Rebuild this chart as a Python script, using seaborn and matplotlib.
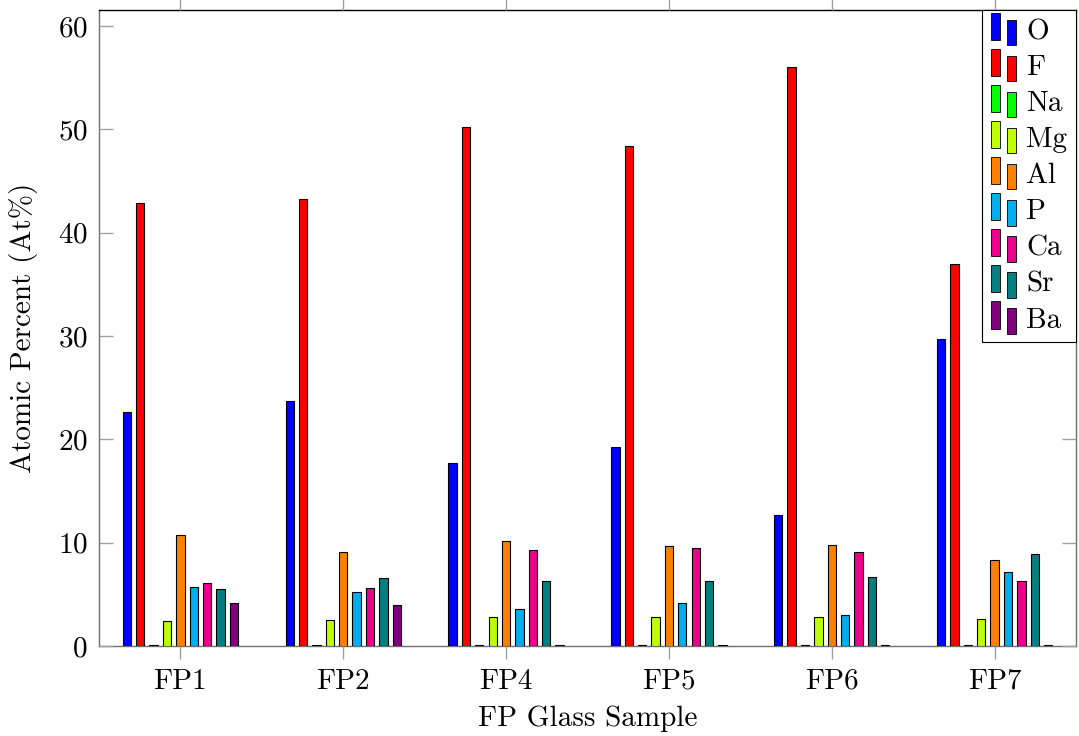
import matplotlib
matplotlib.use("Agg")
import matplotlib.pyplot as plt
from matplotlib.patches import Patch, Rectangle
from matplotlib.legend_handler import HandlerBase
import seaborn as sns
import pandas as pd

samples = ["FP1", "FP2", "FP4", "FP5", "FP6", "FP7"]
elements = ["O", "F", "Na", "Mg", "Al", "P", "Ca", "Sr", "Ba"]

O_vals = [22.6, 23.7, 17.7, 19.3, 12.65, 29.7]
F_vals = [42.9, 43.3, 50.2, 48.4, 56.0, 37.0]
Na_vals = [0.1, 0.1, 0.1, 0.1, 0.1, 0.1]
Mg_vals = [2.45, 2.5, 2.85, 2.8, 2.84, 2.65]
Al_vals = [10.7, 9.1, 10.2, 9.68, 9.75, 8.35]
P_vals = [5.68, 5.25, 3.6, 4.2, 3.03, 7.16]
Ca_vals = [6.1, 5.6, 9.26, 9.5, 9.13, 6.32]
Sr_vals = [5.5, 6.6, 6.3, 6.3, 6.7, 8.88]
Ba_vals = [4.2, 4.0, 0.1, 0.1, 0.1, 0.1]

colors = ["#0000FF", "#FF0000", "#00FF00", "#BFFF00", "#FF8000",
          "#00ADEF", "#EC008C", "#008080", "#800080"]

series = [O_vals, F_vals, Na_vals, Mg_vals, Al_vals, P_vals, Ca_vals, Sr_vals, Ba_vals]
rows = []
for el, vals in zip(elements, series):
    for s, v in zip(samples, vals):
        rows.append({"sample": s, "element": el, "value": v})
df = pd.DataFrame(rows)
palette = dict(zip(elements, colors))

sns.set_theme(style="white")
plt.rcParams["font.family"] = ["cmr10", "DejaVu Serif"]
plt.rcParams["mathtext.fontset"] = "cm"
plt.rcParams["axes.formatter.use_mathtext"] = True
plt.rcParams["text.color"] = "black"
plt.rcParams["axes.labelcolor"] = "black"
plt.rcParams["xtick.color"] = "black"
plt.rcParams["ytick.color"] = "black"

FS = 21

fig = plt.figure(figsize=(10.79, 7.36), dpi=100)
ax = fig.add_axes([99 / 1079, 1 - 646 / 736, (1076 - 99) / 1079, (646 - 10) / 736])

sns.barplot(data=df, x="sample", y="value", hue="element", order=samples,
            hue_order=elements, palette=palette, saturation=1, width=0.74,
            gap=0.38, edgecolor="black", linewidth=0.8, errorbar=None,
            legend=False, ax=ax)

ax.set_xlim(-0.5, 5.5)
ax.set_ylim(0, 61.55)
ax.set_yticks([0, 10, 20, 30, 40, 50, 60])
ax.set_xlabel("FP Glass Sample", fontsize=FS, labelpad=8)
ax.set_ylabel("Atomic Percent (At%)", fontsize=FS, labelpad=14)
for name, sp in ax.spines.items():
    sp.set_visible(True)
    sp.set_linewidth(1.0)
    sp.set_color("black" if name == "top" else "#6e6e6e")
    sp.set_zorder(0.5)

ax.tick_params(axis="x", direction="out", length=9, width=1, color="#a0a0a0",
               labelcolor="black", top=True, bottom=True, labelsize=FS, pad=7)
ax.tick_params(axis="y", direction="in", length=10, width=1, color="#a0a0a0",
               labelcolor="black", left=True, right=True, labelsize=FS, pad=8)


class TwoBars(HandlerBase):
    def create_artists(self, legend, orig_handle, xdescent, ydescent,
                       width, height, fontsize, trans):
        fc = orig_handle.get_facecolor()
        bw = width * 0.34
        r1 = Rectangle((-xdescent, -ydescent - 0.05 * height), bw, height * 1.35,
                       facecolor=fc, edgecolor="black", linewidth=0.6, transform=trans)
        r2 = Rectangle((-xdescent + width * 0.66, -ydescent - 0.3 * height), bw, height * 1.25,
                       facecolor=fc, edgecolor="black", linewidth=0.6, transform=trans)
        return [r1, r2]


handles = [Patch(facecolor=c, edgecolor="black") for c in colors]
leg = ax.legend(handles, elements, loc="upper right", bbox_to_anchor=(1, 1),
                borderaxespad=0, frameon=True, fancybox=False, framealpha=1,
                edgecolor="black", fontsize=FS, handlelength=0.85,
                handleheight=0.7, handletextpad=0.35, labelspacing=0.33,
                borderpad=0.3, handler_map={Patch: TwoBars()})
leg.get_frame().set_linewidth(0.8)

fig.savefig("out.png", dpi=100)
